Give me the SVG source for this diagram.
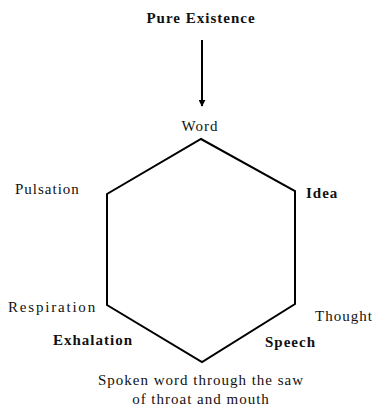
<svg xmlns="http://www.w3.org/2000/svg" width="378" height="413" viewBox="0 0 378 413">
<style>
text{font-family:"Liberation Serif","Times New Roman",serif;font-size:15px;letter-spacing:1px;fill:#111;}
.b{font-weight:bold;letter-spacing:1px;}
.w{letter-spacing:1.8px;}
.edge{stroke:#000;stroke-width:2;fill:none;stroke-linejoin:miter;}
</style>
<defs>
<marker id="ah" viewBox="0 0 10 10" refX="9" refY="5" markerWidth="3.5" markerHeight="3.5" orient="auto"><path d="M0,0 L10,5 L0,10 z" fill="#000"/></marker>
</defs>
<rect width="378" height="413" fill="#fff"/>
<g id="connectors">
<line class="edge" x1="202" y1="40" x2="202" y2="106" stroke-width="3" marker-end="url(#ah)"/>
<polygon class="edge" points="201,139 295,191 295,304 202,362 107,305 107,194"/>
</g>
<g id="pure"><text class="b" x="201" y="23" text-anchor="middle">Pure Existence</text></g>
<g id="word"><text x="200" y="131" text-anchor="middle">Word</text></g>
<g id="idea"><text class="b" x="306" y="198">Idea</text></g>
<g id="thought"><text x="315" y="321">Thought</text></g>
<g id="speech"><text class="b" x="265" y="347">Speech</text></g>
<g id="spoken"><text x="201" y="385" text-anchor="middle">Spoken word through the saw</text><text x="201" y="404" text-anchor="middle">of throat and mouth</text></g>
<g id="exhalation"><text class="b" x="53" y="345">Exhalation</text></g>
<g id="respiration"><text class="w" x="8" y="312">Respiration</text></g>
<g id="pulsation"><text x="15" y="194">Pulsation</text></g>
</svg>
